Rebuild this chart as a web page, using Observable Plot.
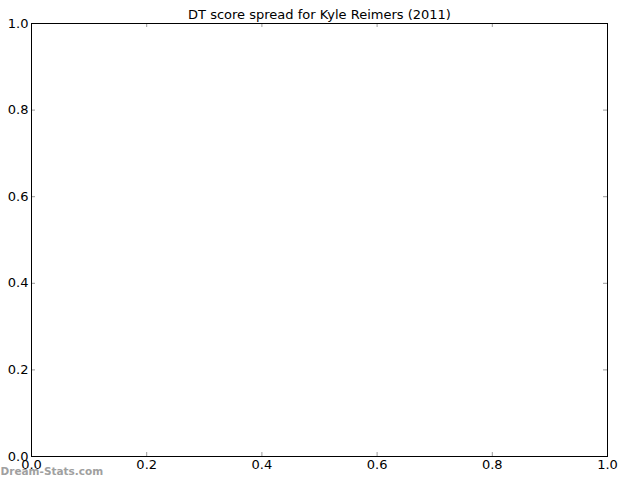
<!DOCTYPE html>
<html>
<head>
<meta charset="utf-8">
<script src="https://cdn.jsdelivr.net/npm/d3@7"></script>
<script src="https://cdn.jsdelivr.net/npm/@observablehq/plot@0.6"></script>
<style>
  html, body { margin: 0; padding: 0; background: #fff; }
  #chart { position: relative; width: 640px; height: 480px; }
</style>
</head>
<body>
<div id="chart"></div>
<script>
const titleText = "DT score spread for Kyle Reimers (2011)";
const watermark = "Dream-Stats.com";
const xTicks = [0.0, 0.2, 0.4, 0.6, 0.8, 1.0];
const yTicks = [0.0, 0.2, 0.4, 0.6, 0.8, 1.0];

const W = 640, H = 480;
const mL = 31, mR = 33, mT = 23, mB = 24;
const innerH = H - mT - mB;
const innerW = W - mL - mR;
const tickLen = 4;
const tickColor = "#9a9a9a";

const plot = Plot.plot({
  width: W,
  height: H,
  marginLeft: mL,
  marginRight: mR,
  marginTop: mT,
  marginBottom: mB,
  style: { fontFamily: "DejaVu Sans", fontSize: "13px", background: "#fff", color: "#000", overflow: "visible" },
  x: { domain: [0, 1] },
  y: { domain: [0, 1] },
  marks: [
    // inward ticks on all four sides
    Plot.tickX(xTicks, { x: d => d, insetTop: innerH - tickLen, stroke: tickColor }),
    Plot.tickX(xTicks, { x: d => d, insetBottom: innerH - tickLen, stroke: tickColor }),
    Plot.tickY(yTicks, { y: d => d, insetRight: innerW - tickLen, stroke: tickColor }),
    Plot.tickY(yTicks, { y: d => d, insetLeft: innerW - tickLen, stroke: tickColor }),
    Plot.frame({ stroke: "#000", strokeWidth: 1 }),
    Plot.axisX(xTicks, { tickSize: 0, tickPadding: 3, tickFormat: d3.format(".1f"), fontSize: 13, fill: "#000" }),
    Plot.axisY(yTicks, { tickSize: 0, tickPadding: 3, tickFormat: d3.format(".1f"), fontSize: 13, fill: "#000" }),
    Plot.text([titleText], { text: d => d, frameAnchor: "top", dy: -14, fontSize: 13, fill: "#000" }),
    Plot.text([watermark], { text: d => d, frameAnchor: "bottom-left", textAnchor: "start", dx: -mL, dy: 18, fontSize: 10.5, fontWeight: "bold", fill: "#a0a0a0" })
  ]
});
document.getElementById("chart").appendChild(plot);
</script>
</body>
</html>
